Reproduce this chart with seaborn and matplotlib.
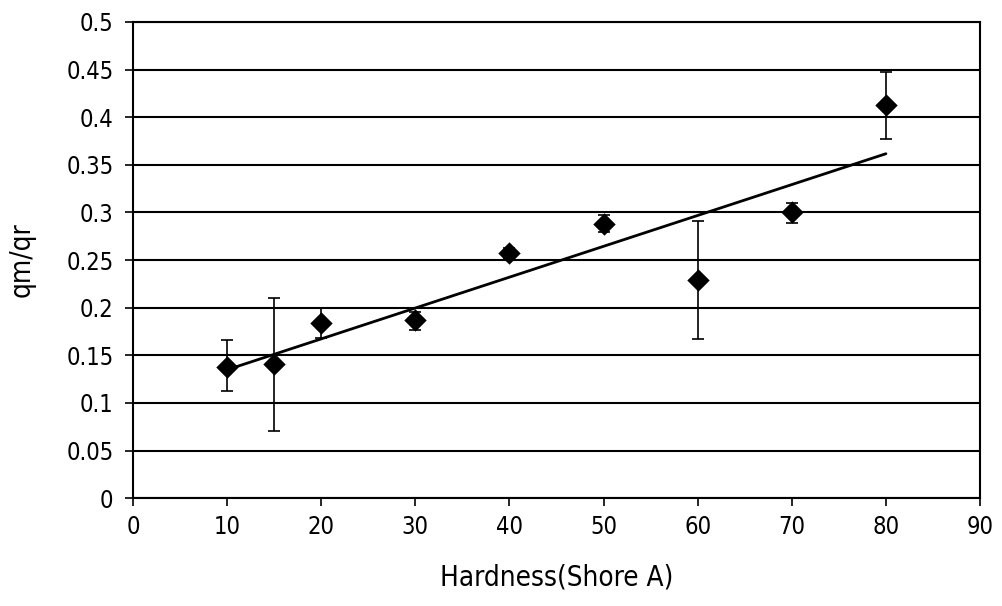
import matplotlib.pyplot as plt
import numpy as np
import seaborn as sns

hardness = [10, 15, 20, 30, 40, 50, 60, 70, 80]
ratio = [0.138, 0.141, 0.184, 0.187, 0.257, 0.288, 0.229, 0.300, 0.413]
err_low = [0.025, 0.070, 0.016, 0.010, 0.006, 0.009, 0.062, 0.011, 0.036]
err_high = [0.028, 0.069, 0.016, 0.008, 0.006, 0.009, 0.062, 0.010, 0.034]
y_labels = ["0", "0.05", "0.1", "0.15", "0.2", "0.25", "0.3", "0.35", "0.4", "0.45", "0.5"]

sns.set_style("white")
plt.rcParams["font.family"] = ["DejaVu Sans", "Liberation Sans"]
plt.rcParams["font.stretch"] = "condensed"
plt.rcParams["text.color"] = "black"
plt.rcParams["axes.labelcolor"] = "black"
plt.rcParams["xtick.color"] = "black"
plt.rcParams["ytick.color"] = "black"

fig = plt.figure(figsize=(10.03, 6.06), dpi=100)
ax = fig.add_axes([0.1326, 0.178, 0.8445, 0.7857])

ax.errorbar(
    hardness,
    ratio,
    yerr=[err_low, err_high],
    fmt="none",
    ecolor="black",
    elinewidth=1.2,
    capsize=4.5,
    capthick=1.2,
    zorder=3,
)
sns.regplot(
    x=hardness,
    y=ratio,
    ci=None,
    truncate=True,
    marker="D",
    scatter_kws={"s": 130, "color": "black", "alpha": 1, "zorder": 4, "linewidths": 0},
    line_kws={"color": "black", "linewidth": 2},
    ax=ax,
)

ax.set_xlim(0, 90)
ax.set_ylim(0, 0.5)
ax.set_xticks(np.arange(0, 91, 10))
ax.set_yticks(np.arange(0, 0.501, 0.05))
ax.set_yticklabels(y_labels)
ax.yaxis.grid(True, color="black", linewidth=1.5)
ax.set_axisbelow(True)
for s in ax.spines.values():
    s.set_color("black")
    s.set_linewidth(1.5)
ax.tick_params(axis="both", direction="out", length=6, width=1.2, color="black",
               labelsize=17, left=True, bottom=True)
ax.tick_params(axis="y", pad=8)
ax.tick_params(axis="x", pad=6)
ax.set_xlabel("Hardness(Shore A)", fontsize=20, labelpad=18)
ax.set_ylabel("qm/qr", fontsize=20, labelpad=22)

plt.savefig("out.png", dpi=100)
plt.close()
